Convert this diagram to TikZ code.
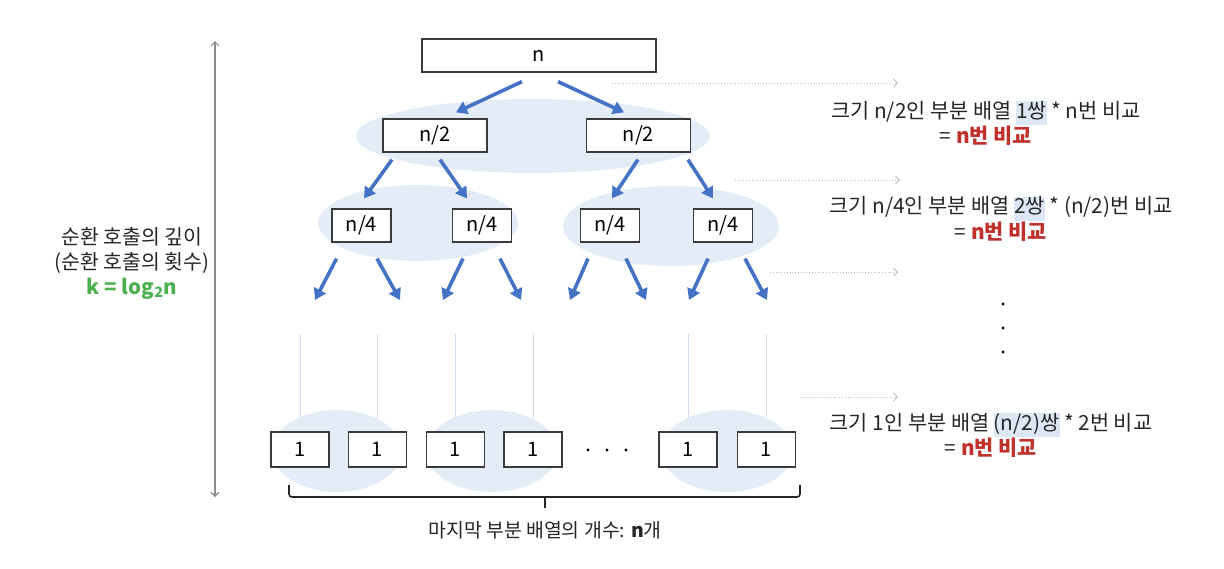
\documentclass[tikz,border=0pt]{standalone}
\usepackage{fontspec}
\setmainfont{Noto Sans CJK KR}
\usetikzlibrary{arrows.meta}
\definecolor{ellfill}{HTML}{E4ECF7}
\definecolor{treeblue}{HTML}{4472C4}
\definecolor{vlinec}{HTML}{CFDCF2}
\definecolor{boxline}{HTML}{3A3A3A}
\definecolor{dotgray}{HTML}{BDBDBD}
\definecolor{axisgray}{HTML}{8C8C8C}
\definecolor{redtxt}{HTML}{C0312B}
\definecolor{greentxt}{HTML}{4CAF50}
\definecolor{hlc}{HTML}{DCE6F4}
\pgfdeclarelayer{bgl}\pgfdeclarelayer{bg}\pgfsetlayers{bgl,bg,main}
\newcommand{\hlbox}[1]{{\setlength{\fboxsep}{0pt}\colorbox{hlc}{\strut #1}}}
\begin{document}
\begin{tikzpicture}[x=1pt,y=-1pt,
  box/.style={draw=boxline,line width=1.2pt,fill=white,minimum height=33pt,inner sep=0pt,font=\fontsize{20}{22}\selectfont},
  leafbox/.style={box,minimum width=58pt,minimum height=35pt},
  ell/.style={fill=ellfill},
  treearrow/.style={draw=treeblue,line width=3.6pt,-{Triangle[width=13pt,length=11pt]}},
  vlinest/.style={draw=vlinec,line width=0.9pt},
  dotarrow/.style={draw=dotgray,line width=0.8pt,dotted,-{Straight Barb[length=4pt,width=8pt]}},
  axisarrow/.style={draw=axisgray,line width=1.1pt,{Straight Barb[length=4pt,width=8pt]}-{Straight Barb[length=4pt,width=8pt]}},
  rtext/.style={align=center,font=\fontsize{20.8}{24}\selectfont,text=black!85},
  ltext/.style={align=center,font=\fontsize{20.5}{25}\selectfont,text=black!85},
  dotmark/.style={fill=black}
]
\useasboundingbox (0,0) rectangle (1224,568);

% ---- nodes ----
\node[box,minimum width=234pt] (root) at (539,55.5) {n};
\node[box,minimum width=104pt] (h1) at (435,135.5) {n/2};
\node[box,minimum width=104pt] (h2) at (638.5,135.5) {n/2};
\node[box,minimum width=59pt] (q1) at (361.5,225.5) {n/4};
\node[box,minimum width=59pt] (q2) at (482,225.5) {n/4};
\node[box,minimum width=59pt] (q3) at (610,225.5) {n/4};
\node[box,minimum width=59pt] (q4) at (723,225.5) {n/4};
\node[leafbox] (b1) at (300,449.5) {1};
\node[leafbox] (b2) at (377.5,449.5) {1};
\node[leafbox] (b3) at (455.5,449.5) {1};
\node[leafbox] (b4) at (533,449.5) {1};
\node[leafbox] (b5) at (688,449.5) {1};
\node[leafbox] (b6) at (766.5,449.5) {1};

% ---- ellipses ----
\begin{pgfonlayer}{bg}
\fill[ell] (533,136) ellipse [x radius=177pt, y radius=37pt];
\fill[ell] (418,223) ellipse [x radius=100pt, y radius=38pt];
\fill[ell] (671,226) ellipse [x radius=108pt, y radius=40pt];
\fill[ell] (337,451) ellipse [x radius=65pt, y radius=41pt];
\fill[ell] (492,451) ellipse [x radius=66pt, y radius=41pt];
\fill[ell] (727,451) ellipse [x radius=66pt, y radius=41pt];
\end{pgfonlayer}

% ---- light vertical lines ----
\begin{pgfonlayer}{bgl}
\foreach \b in {b1,b2,b3,b4,b5,b6}{
  \draw[vlinest] ([yshift=97pt]\b.north) -- (\b.north);
}
\end{pgfonlayer}

% ---- tree arrows ----
\draw[treearrow] ([xshift=-17pt,yshift=-9pt]root.south) -- ([xshift=21pt,yshift=6pt]h1.north);
\draw[treearrow] ([xshift=19pt,yshift=-9pt]root.south) -- ([xshift=-14.5pt,yshift=6pt]h2.north);
\draw[treearrow] ([xshift=-43pt,yshift=-7pt]h1.south) -- ([xshift=2.5pt,yshift=10pt]q1.north);
\draw[treearrow] ([xshift=5pt,yshift=-7pt]h1.south) -- ([xshift=-15pt,yshift=10pt]q2.north);
\draw[treearrow] ([xshift=-0.5pt,yshift=-7pt]h2.south) -- ([xshift=2pt,yshift=10pt]q3.north);
\draw[treearrow] ([xshift=49.5pt,yshift=-7pt]h2.south) -- ([xshift=-10pt,yshift=10pt]q4.north);

\coordinate (e1) at (315,300);
\coordinate (e2) at (400,300);
\coordinate (e3) at (443,300);
\coordinate (e4) at (521,300);
\coordinate (e5) at (570,300);
\coordinate (e6) at (646,300);
\coordinate (e7) at (689,300);
\coordinate (e8) at (767,300);
\draw[treearrow] ([xshift=-25pt,yshift=-16pt]q1.south) -- (e1);
\draw[treearrow] ([xshift=15.5pt,yshift=-16pt]q1.south) -- (e2);
\draw[treearrow] ([xshift=-19pt,yshift=-16pt]q2.south) -- (e3);
\draw[treearrow] ([xshift=18pt,yshift=-16pt]q2.south) -- (e4);
\draw[treearrow] ([xshift=-22pt,yshift=-16pt]q3.south) -- (e5);
\draw[treearrow] ([xshift=16pt,yshift=-16pt]q3.south) -- (e6);
\draw[treearrow] ([xshift=-15pt,yshift=-16pt]q4.south) -- (e7);
\draw[treearrow] ([xshift=22pt,yshift=-16pt]q4.south) -- (e8);

% ---- dots between leaves ----
\fill[dotmark] (588,450) circle (1.6pt);
\fill[dotmark] (607,450) circle (1.6pt);
\fill[dotmark] (626,450) circle (1.6pt);

% ---- brace ----
\coordinate (brl) at (289,485);
\coordinate (brr) at (800,485);
\coordinate (brm) at (545,497);
\draw[line width=1.6pt,draw=black!85,rounded corners=3pt] (brl) -- (289,497) -- (800,497) -- (brr);
\draw[line width=1.6pt,draw=black!85] (brm) -- (545,508);
\node[font=\fontsize{19.4}{22}\selectfont,text=black!85] (cnt) at (545,530) {마지막 부분 배열의 개수: \textbf{n}개};

% ---- left axis ----
\coordinate (vtop) at (215,41);
\coordinate (vbot) at (215,497);
\draw[axisarrow] (vtop) -- (vbot);
\node[ltext] (depth) at (132,263) {순환 호출의 깊이\\(순환 호출의 횟수)\\\textcolor{greentxt}{\textbf{k = log\textsubscript{2}n}}};

% ---- dotted arrows ----
\coordinate (d1a) at (612,83);  \coordinate (d1b) at (898,83);
\coordinate (d2a) at (735,180); \coordinate (d2b) at (900,180);
\coordinate (d3a) at (770,272); \coordinate (d3b) at (898,272);
\coordinate (d4a) at (800,397); \coordinate (d4b) at (898,397);
\draw[dotarrow] (d1a) -- (d1b);
\draw[dotarrow] (d2a) -- (d2b);
\draw[dotarrow] (d3a) -- (d3b);
\draw[dotarrow] (d4a) -- (d4b);

% ---- right texts ----
\node[rtext] (r1) at (986,123.5) {크기 n/2인 부분 배열 \hlbox{1쌍} * n번 비교\\= \textcolor{redtxt}{\textbf{n번 비교}}};
\node[rtext] (r2) at (1001,219) {크기 n/4인 부분 배열 \hlbox{2쌍} * (n/2)번 비교\\= \textcolor{redtxt}{\textbf{n번 비교}}};
\fill[dotmark] (1003,304) circle (1.6pt);
\fill[dotmark] (1003,328) circle (1.6pt);
\fill[dotmark] (1003,352) circle (1.6pt);
\node[rtext] (r3) at (991,435.5) {크기 1인 부분 배열 \hlbox{(n/2)쌍} * 2번 비교\\= \textcolor{redtxt}{\textbf{n번 비교}}};
\end{tikzpicture}
\end{document}
